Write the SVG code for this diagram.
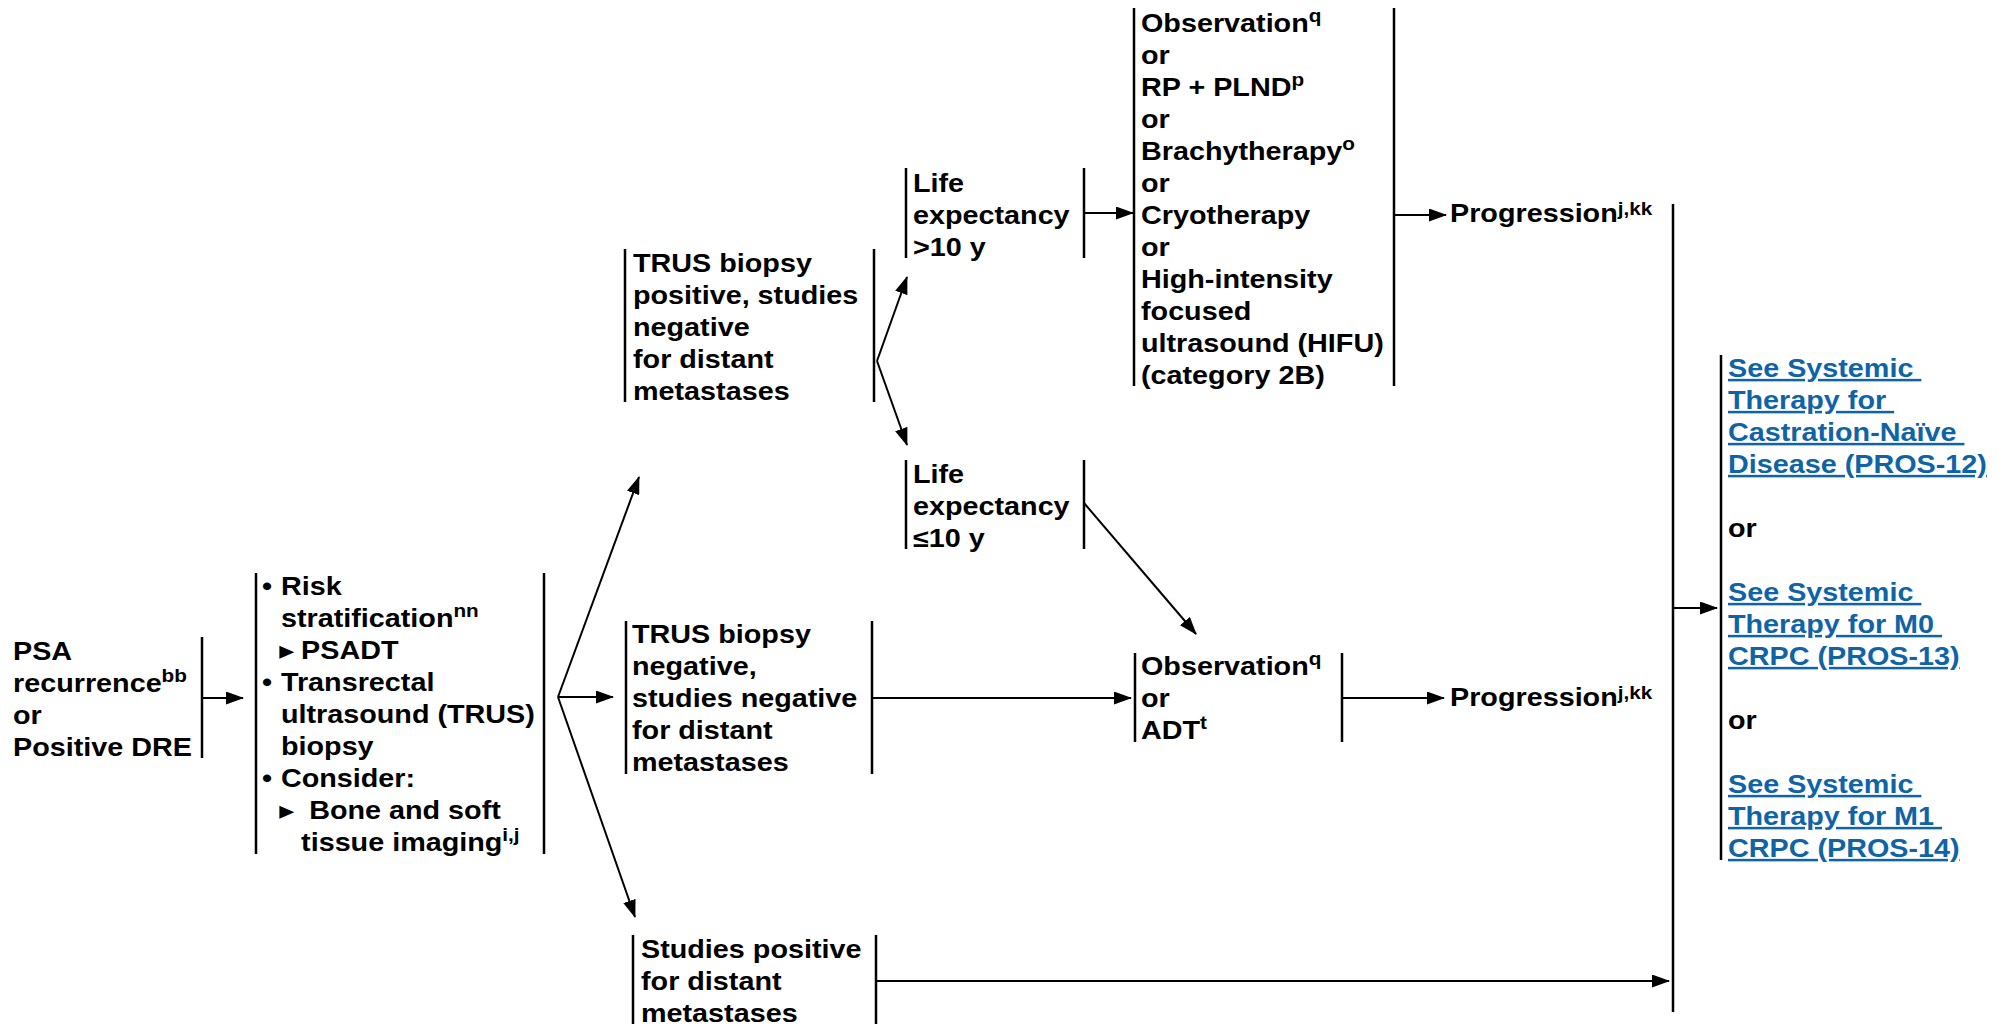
<svg xmlns="http://www.w3.org/2000/svg" width="2007" height="1024" viewBox="0 0 2007 1024">
<style>
.t{font-family:"Liberation Sans",Arial,"DejaVu Sans",sans-serif;font-weight:bold;font-size:25px;fill:#000}
.sup{font-size:18px}
.tri{font-family:"DejaVu Sans",sans-serif;font-size:26px}
.bar{stroke:#000;stroke-width:2.5;fill:none}
.ca{stroke:#000;stroke-width:2;fill:none;marker-end:url(#ah)}
.lk{fill:#0F64A8;text-decoration:underline;white-space:pre}
</style>
<defs>
<marker id="ah" markerWidth="18" markerHeight="13" refX="17" refY="6.5" orient="auto" markerUnits="userSpaceOnUse"><path d="M0,0 L18,6.5 L0,13 z" fill="#000"/></marker>
</defs>
<rect width="2007" height="1024" fill="#fff"/>

<g id="connectors">
<path class="ca" d="M202,698 H243"/>
<path class="ca" d="M558,697 L639,477"/>
<path class="ca" d="M558,697 H613"/>
<path class="ca" d="M558,697 L635,917"/>
<path class="ca" d="M877,361 L907,277"/>
<path class="ca" d="M877,361 L907,445"/>
<path class="ca" d="M1084,213 H1133"/>
<path class="ca" d="M1084,503 L1196,634"/>
<path class="ca" d="M1394,215 H1446"/>
<path class="ca" d="M872,698 H1131"/>
<path class="ca" d="M1342,698 H1444"/>
<path class="ca" d="M876,981 H1669"/>
<path class="bar" d="M1673,204 V1012"/>
<path class="ca" d="M1674,608 H1717"/>
</g>

<g id="n-psa">
<path class="bar" d="M202,637 V758"/>
<text class="t" transform="translate(13,660) scale(1.15,1)"><tspan x="0" y="0">PSA</tspan><tspan x="0" y="32">recurrence</tspan><tspan class="sup" dy="-10">bb</tspan><tspan x="0" y="64">or</tspan><tspan x="0" y="96">Positive DRE</tspan></text>
</g>

<g id="n-workup">
<path class="bar" d="M256,573 V854 M544,573 V854"/>
<text class="t" transform="translate(262,595) scale(1.15,1)"><tspan x="0" y="0">•</tspan><tspan x="16.5" y="0">Risk</tspan><tspan x="16.5" y="32">stratification</tspan><tspan class="sup" dy="-10">nn</tspan><tspan class="tri" x="15" y="64">▸</tspan><tspan x="34" y="64">PSADT</tspan><tspan x="0" y="96">•</tspan><tspan x="16.5" y="96">Transrectal</tspan><tspan x="16.5" y="128">ultrasound (TRUS)</tspan><tspan x="16.5" y="160">biopsy</tspan><tspan x="0" y="192">•</tspan><tspan x="16.5" y="192">Consider:</tspan><tspan class="tri" x="15" y="224">▸</tspan><tspan x="41" y="224">Bone and soft</tspan><tspan x="34" y="256">tissue imaging</tspan><tspan class="sup" dy="-10">i,j</tspan></text>
</g>

<g id="n-trus-pos">
<path class="bar" d="M625,249 V402 M874,249 V402"/>
<text class="t" transform="translate(633,272) scale(1.15,1)"><tspan x="0" y="0">TRUS biopsy</tspan><tspan x="0" y="32">positive, studies</tspan><tspan x="0" y="64">negative</tspan><tspan x="0" y="96">for distant</tspan><tspan x="0" y="128">metastases</tspan></text>
</g>

<g id="n-life-gt10">
<path class="bar" d="M906,168 V258 M1084,168 V258"/>
<text class="t" transform="translate(913,192) scale(1.15,1)"><tspan x="0" y="0">Life</tspan><tspan x="0" y="32">expectancy</tspan><tspan x="0" y="64">&gt;10 y</tspan></text>
</g>

<g id="n-life-le10">
<path class="bar" d="M906,460 V549 M1084,460 V549"/>
<text class="t" transform="translate(913,483) scale(1.15,1)"><tspan x="0" y="0">Life</tspan><tspan x="0" y="32">expectancy</tspan><tspan x="0" y="64">≤10 y</tspan></text>
</g>

<g id="n-local-tx">
<path class="bar" d="M1134,8 V386 M1394,8 V386"/>
<text class="t" transform="translate(1141,32) scale(1.15,1)"><tspan x="0" y="0">Observation</tspan><tspan class="sup" dy="-10">q</tspan><tspan x="0" y="32">or</tspan><tspan x="0" y="64">RP + PLND</tspan><tspan class="sup" dy="-10">p</tspan><tspan x="0" y="96">or</tspan><tspan x="0" y="128">Brachytherapy</tspan><tspan class="sup" dy="-10">o</tspan><tspan x="0" y="160">or</tspan><tspan x="0" y="192">Cryotherapy</tspan><tspan x="0" y="224">or</tspan><tspan x="0" y="256">High-intensity</tspan><tspan x="0" y="288">focused</tspan><tspan x="0" y="320">ultrasound (HIFU)</tspan><tspan x="0" y="352">(category 2B)</tspan></text>
</g>

<g id="n-prog1">
<text class="t" transform="translate(1450,222) scale(1.15,1)"><tspan x="0" y="0">Progression</tspan><tspan class="sup" dy="-7">j,kk</tspan></text>
</g>

<g id="n-trus-neg">
<path class="bar" d="M626,621 V774 M872,621 V774"/>
<text class="t" transform="translate(632,643) scale(1.15,1)"><tspan x="0" y="0">TRUS biopsy</tspan><tspan x="0" y="32">negative,</tspan><tspan x="0" y="64">studies negative</tspan><tspan x="0" y="96">for distant</tspan><tspan x="0" y="128">metastases</tspan></text>
</g>

<g id="n-obs-adt">
<path class="bar" d="M1135,653 V742 M1342,653 V742"/>
<text class="t" transform="translate(1141,675) scale(1.15,1)"><tspan x="0" y="0">Observation</tspan><tspan class="sup" dy="-10">q</tspan><tspan x="0" y="32">or</tspan><tspan x="0" y="64">ADT</tspan><tspan class="sup" dy="-10">t</tspan></text>
</g>

<g id="n-prog2">
<text class="t" transform="translate(1450,706) scale(1.15,1)"><tspan x="0" y="0">Progression</tspan><tspan class="sup" dy="-7">j,kk</tspan></text>
</g>

<g id="n-studies-pos">
<path class="bar" d="M633,935 V1024 M876,935 V1024"/>
<text class="t" transform="translate(641,958) scale(1.15,1)"><tspan x="0" y="0">Studies positive</tspan><tspan x="0" y="32">for distant</tspan><tspan x="0" y="64">metastases</tspan></text>
</g>

<g id="n-systemic">
<path class="bar" d="M1721,355 V860"/>
<text class="t lk" transform="translate(1728,377) scale(1.15,1)"><tspan x="0" y="0">See Systemic </tspan><tspan x="0" y="32">Therapy for </tspan><tspan x="0" y="64">Castration-Naïve </tspan><tspan x="0" y="96">Disease (PROS-12)</tspan></text>
<text class="t" transform="translate(1728,537) scale(1.15,1)">or</text>
<text class="t lk" transform="translate(1728,601) scale(1.15,1)"><tspan x="0" y="0">See Systemic </tspan><tspan x="0" y="32">Therapy for M0 </tspan><tspan x="0" y="64">CRPC (PROS-13)</tspan></text>
<text class="t" transform="translate(1728,729) scale(1.15,1)">or</text>
<text class="t lk" transform="translate(1728,793) scale(1.15,1)"><tspan x="0" y="0">See Systemic </tspan><tspan x="0" y="32">Therapy for M1 </tspan><tspan x="0" y="64">CRPC (PROS-14)</tspan></text>
</g>
</svg>
